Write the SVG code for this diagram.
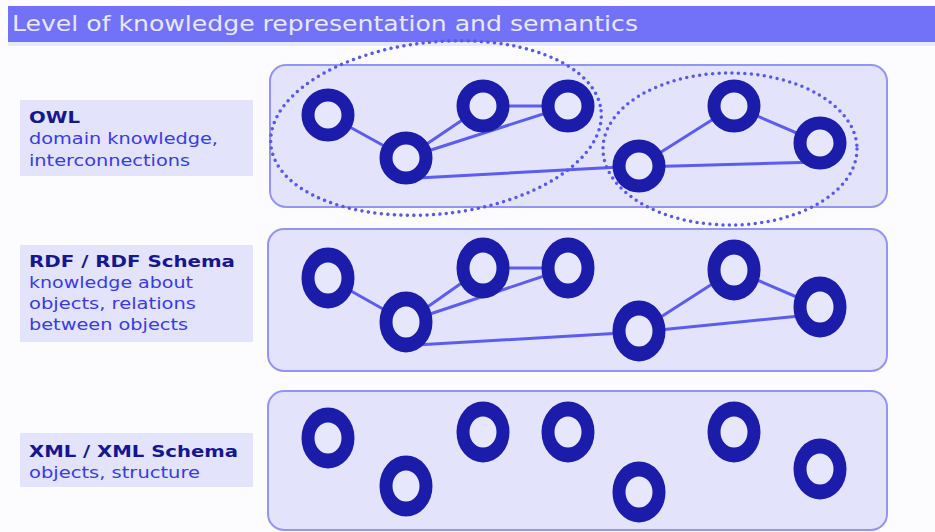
<svg xmlns="http://www.w3.org/2000/svg" width="935" height="532" viewBox="0 0 935 532">
  <defs>
    <style>
      .band { fill: #e3e3fc; stroke: #9494f4; stroke-width: 2; }
      .lbl-box { fill: #e3e3fc; }
      .lbl-head { font-family: "DejaVu Sans", Verdana, sans-serif; font-weight: bold; font-size: 16px; fill: #16168e; }
      .lbl-text { font-family: "DejaVu Sans", Verdana, sans-serif; font-size: 16px; fill: #3a3ae2; }
      .ring { fill: #e6e6fd; stroke: #1c1caa; stroke-width: 13; }
      .edge { stroke: #5c5cf0; stroke-width: 3; fill: none; stroke-linecap: round; }
      .group-outline { fill: none; stroke: #5858ec; stroke-width: 3.5; stroke-dasharray: 0 6.5; stroke-linecap: round; }
    </style>
  </defs>

  <rect width="935" height="532" fill="#fcfcff"/>

  <!-- header bar -->
  <g id="title">
    <rect x="8" y="6" width="927" height="36" fill="#7272f8"/>
    <rect x="8" y="42" width="927" height="4" fill="#dcdcfc" opacity="0.6"/>
    <text x="12" y="31" font-family="DejaVu Sans, sans-serif" font-size="22" fill="#e8e8ff" textLength="626" lengthAdjust="spacingAndGlyphs">Level of knowledge representation and semantics</text>
  </g>

  <!-- layer panels -->
  <g id="band-owl"><rect class="band" x="270" y="65" width="617" height="142" rx="16"/></g>
  <g id="band-rdf"><rect class="band" x="268" y="229" width="619" height="142" rx="16"/></g>
  <g id="band-xml"><rect class="band" x="268" y="391" width="619" height="139" rx="16"/></g>

  <!-- layer labels -->
  <g id="label-owl">
    <rect class="lbl-box" x="20" y="100" width="233" height="76"/>
    <text class="lbl-head" x="29" y="123" textLength="51" lengthAdjust="spacingAndGlyphs">OWL</text>
    <text class="lbl-text" x="29" y="144" textLength="189" lengthAdjust="spacingAndGlyphs">domain knowledge,</text>
    <text class="lbl-text" x="29" y="166" textLength="161" lengthAdjust="spacingAndGlyphs">interconnections</text>
  </g>
  <g id="label-rdf">
    <rect class="lbl-box" x="20" y="245" width="233" height="97"/>
    <text class="lbl-head" x="29" y="267" textLength="206" lengthAdjust="spacingAndGlyphs">RDF / RDF Schema</text>
    <text class="lbl-text" x="29" y="288" textLength="164" lengthAdjust="spacingAndGlyphs">knowledge about</text>
    <text class="lbl-text" x="29" y="309" textLength="167" lengthAdjust="spacingAndGlyphs">objects, relations</text>
    <text class="lbl-text" x="29" y="330" textLength="159" lengthAdjust="spacingAndGlyphs">between objects</text>
  </g>
  <g id="label-xml">
    <rect class="lbl-box" x="20" y="433" width="233" height="54"/>
    <text class="lbl-head" x="29" y="457" textLength="209" lengthAdjust="spacingAndGlyphs">XML / XML Schema</text>
    <text class="lbl-text" x="29" y="478" textLength="171" lengthAdjust="spacingAndGlyphs">objects, structure</text>
  </g>

  <!-- connectors -->
  <g id="connectors">
    <!-- OWL layer -->
    <line class="edge" x1="328" y1="115" x2="406" y2="158"/>
    <line class="edge" x1="406" y1="158" x2="483" y2="106"/>
    <line class="edge" x1="483" y1="106" x2="568" y2="106"/>
    <line class="edge" x1="406" y1="158" x2="568" y2="106"/>
    <line class="edge" x1="418" y1="178" x2="639" y2="166"/>
    <line class="edge" x1="639" y1="166" x2="734" y2="106"/>
    <line class="edge" x1="734" y1="106" x2="820" y2="143"/>
    <line class="edge" x1="639" y1="167" x2="820" y2="162"/>
    <!-- RDF layer -->
    <line class="edge" x1="328" y1="278" x2="406" y2="322"/>
    <line class="edge" x1="406" y1="322" x2="483" y2="268"/>
    <line class="edge" x1="483" y1="268" x2="568" y2="268"/>
    <line class="edge" x1="406" y1="322" x2="568" y2="268"/>
    <line class="edge" x1="416" y1="345" x2="639" y2="332"/>
    <line class="edge" x1="639" y1="331" x2="734" y2="270"/>
    <line class="edge" x1="734" y1="270" x2="820" y2="307"/>
    <line class="edge" x1="639" y1="332" x2="820" y2="314"/>
  </g>

  <!-- OWL nodes -->
  <g id="owl-n1"><circle class="ring" cx="328" cy="115" r="20"/></g>
  <g id="owl-n2"><circle class="ring" cx="406" cy="158" r="20"/></g>
  <g id="owl-n3"><circle class="ring" cx="483" cy="106" r="20"/></g>
  <g id="owl-n4"><circle class="ring" cx="568" cy="106" r="20"/></g>
  <g id="owl-n5"><circle class="ring" cx="639" cy="166" r="20"/></g>
  <g id="owl-n6"><circle class="ring" cx="734" cy="106" r="20"/></g>
  <g id="owl-n7"><circle class="ring" cx="820" cy="143" r="20"/></g>

  <!-- RDF nodes -->
  <g id="rdf-n1" transform="translate(328 278) scale(1 1.15)"><circle class="ring" r="20"/></g>
  <g id="rdf-n2" transform="translate(406 322) scale(1 1.15)"><circle class="ring" r="20"/></g>
  <g id="rdf-n3" transform="translate(483 268) scale(1 1.15)"><circle class="ring" r="20"/></g>
  <g id="rdf-n4" transform="translate(568 268) scale(1 1.15)"><circle class="ring" r="20"/></g>
  <g id="rdf-n5" transform="translate(639 331) scale(1 1.15)"><circle class="ring" r="20"/></g>
  <g id="rdf-n6" transform="translate(734 270) scale(1 1.15)"><circle class="ring" r="20"/></g>
  <g id="rdf-n7" transform="translate(820 307) scale(1 1.15)"><circle class="ring" r="20"/></g>

  <!-- XML nodes -->
  <g id="xml-n1" transform="translate(328 438) scale(1 1.15)"><circle class="ring" r="20"/></g>
  <g id="xml-n2" transform="translate(406 486) scale(1 1.15)"><circle class="ring" r="20"/></g>
  <g id="xml-n3" transform="translate(483 432) scale(1 1.15)"><circle class="ring" r="20"/></g>
  <g id="xml-n4" transform="translate(568 432) scale(1 1.15)"><circle class="ring" r="20"/></g>
  <g id="xml-n5" transform="translate(639 492) scale(1 1.15)"><circle class="ring" r="20"/></g>
  <g id="xml-n6" transform="translate(734 432) scale(1 1.15)"><circle class="ring" r="20"/></g>
  <g id="xml-n7" transform="translate(820 469) scale(1 1.15)"><circle class="ring" r="20"/></g>

  <!-- dotted groupings in the OWL layer -->
  <g id="owl-groups">
    <ellipse class="group-outline" cx="436" cy="128" rx="166" ry="86" transform="rotate(-6 436 128)"/>
    <ellipse class="group-outline" cx="730" cy="149" rx="127" ry="76"/>
  </g>
</svg>
